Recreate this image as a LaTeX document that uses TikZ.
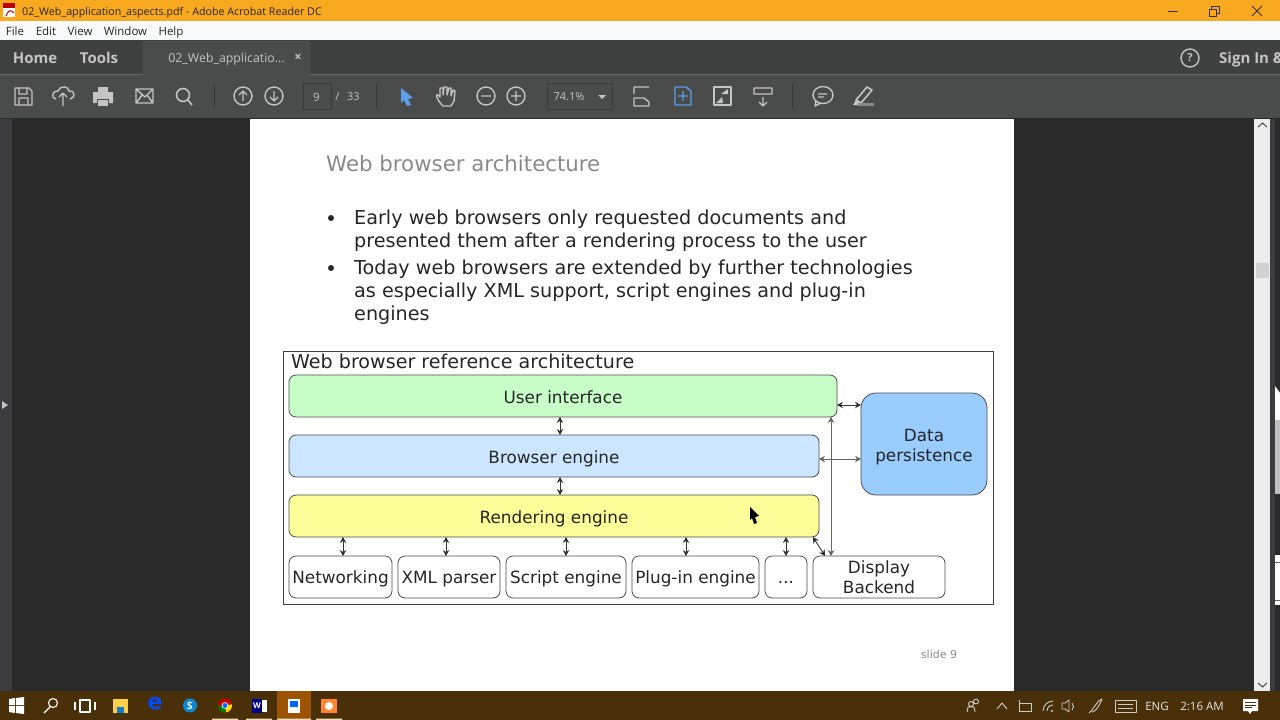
\documentclass[tikz,border=0pt]{standalone}
\usepackage{fontspec}
\setmainfont{DejaVu Sans}
\newfontfamily\uifont{Open Sans}
\usetikzlibrary{arrows.meta}
\definecolor{orangebar}{HTML}{F9A91F}
\definecolor{menubar}{HTML}{F8F9FA}
\definecolor{tabbar}{HTML}{3F4040}
\definecolor{toolbar}{HTML}{4A4B4B}
\definecolor{viewer}{HTML}{2A2A2A}
\definecolor{strip}{HTML}{3C3C3E}
\definecolor{taskbar}{HTML}{4A3008}
\definecolor{icongrey}{HTML}{C4C4C4}
\definecolor{iconblue}{HTML}{5A9FE8}
\definecolor{titlegrey}{HTML}{8A8A8A}
\definecolor{uig}{HTML}{C8FFC8}
\definecolor{beb}{HTML}{CCE6FF}
\definecolor{rey}{HTML}{FFFF99}
\definecolor{dpb}{HTML}{99CCFF}
\definecolor{peach}{HTML}{F5DDBB}
\tikzset{
  x=1pt,y=-1pt,
  boxnode/.style={draw=black!70,line width=.8pt,rounded corners=7pt,inner sep=0pt,outer sep=0pt,align=center,text=black!85,font=\fontsize{16.85}{20}\selectfont},
  oneline/.style={text height=16pt,text depth=2pt},
  lowline/.style={text height=14pt,text depth=2pt},
  arr/.style={{Stealth[length=6pt,width=6.5pt,fill=black]}-{Stealth[length=6pt,width=6.5pt,fill=black]},line width=.9pt,draw=black!80},
  longarr/.style={arr,draw=black!60},
  body/.style={anchor=base west,inner sep=0pt,text=black!85,font=\fontsize{19.2}{22}\selectfont},
  ui/.style={inner sep=0pt,font=\uifont\fontsize{11.5}{14}\selectfont,text=black!85},
  menuitem/.style={ui,anchor=base},
  tabtext/.style={inner sep=0pt,anchor=base,font=\uifont\bfseries\fontsize{15}{18}\selectfont,text=icongrey},
  tool/.style={draw=icongrey,line width=1.4pt,line join=round},
  bar/.style={draw=white,line width=1.1pt,line join=round},
  tray/.style={draw=white!80!black,line width=.9pt,line join=round}
}
\begin{document}
\begin{tikzpicture}
\useasboundingbox (0,0) rectangle (1280,720);
% window bands
\fill[viewer] (0,0) rectangle (1280,720);
\fill[strip] (0,119) rectangle (12,691);
\fill[icongrey] (2,401) -- (8,405) -- (2,409) -- cycle;
\fill[orangebar] (0,0) rectangle (1280,21);
\fill[menubar] (0,21) rectangle (1280,40);
\fill[tabbar] (0,40) rectangle (1280,74);
\fill[toolbar] (143,41) rectangle (310,75);
\fill[toolbar] (0,75) rectangle (1280,118);
\draw[black!60,line width=.7pt] (0,74.5) -- (143,74.5) (310,74.5) -- (1280,74.5);
% title bar
\fill[white] (3,3) rectangle (15,17);
\fill[red!75!black] (3,3) rectangle (15,8);
\draw[red!75!black,line width=1pt] (6,16) .. controls (9,9) and (11,10) .. (14,13);
\node[ui,anchor=base west,font=\uifont\fontsize{10.7}{14}\selectfont] (title) at (22,15) {02\_Web\_application\_aspects.pdf - Adobe Acrobat Reader DC};
\draw[black!80,line width=.8pt] (1168,11) -- (1178,11);
\draw[black!80,line width=.8pt] (1209,9) rectangle (1216,16) (1211,9) -- (1211,6) -- (1219,6) -- (1219,13) -- (1216,13);
\draw[black!80,line width=.8pt] (1252,6) -- (1262,16) (1262,6) -- (1252,16);
% menu
\foreach \n/\xx/\t in {mfile/15/File,medit/46/Edit,mview/80/View,mwin/125.5/Window,mhelp/171/Help}
  \node[menuitem] (\n) at (\xx,35) {\t};
% tabs
\node[tabtext] (thome) at (35,63) {Home};
\node[tabtext] (ttools) at (99,63) {Tools};
\node[ui,anchor=base,font=\uifont\fontsize{12.3}{16}\selectfont,text=icongrey] (ttab) at (226.5,62.5) {02\_Web\_applicatio...};
\node[ui,font=\uifont\bfseries\fontsize{13}{16}\selectfont,text=icongrey] (tx) at (298,58) {×};
\node[tabtext,anchor=base west] (tsign) at (1219,63) {Sign In \&};
\draw[tool] (1190,58) circle (9);
\node[ui,font=\uifont\bfseries\fontsize{11}{14}\selectfont,text=icongrey] (thelp) at (1190,58) {?};
% toolbar icons
\draw[tool] (15,88) -- (29,88) -- (32,91) -- (32,105) -- (15,105) -- cycle (19,88) rectangle (27,94) (19,105) rectangle (28,98);
\draw[tool] (56,99) .. controls (50,98) and (53,90) .. (58,91) .. controls (60,85) and (69,86) .. (69,91) .. controls (75,90) and (76,98) .. (70,99) (63,106) -- (63,93) (59,97) -- (63,93) -- (67,97);
\fill[icongrey] (98,87) rectangle (108,92) (93,92) rectangle (113,103);
\fill[toolbar] (97,99) rectangle (109,104);
\fill[icongrey] (98,100) rectangle (108,106);
\draw[tool] (136,89) rectangle (153,103) (136,89) -- (145,97) -- (153,89) (136,103) -- (142,95) (153,103) -- (147,95);
\draw[tool,line width=1.6pt] (183,95) circle (6.5) (188,100) -- (192,105);
\draw[black!30!toolbar,line width=.7pt] (214,84) -- (214,108) (376,84) -- (376,108) (792,84) -- (792,108);
\foreach \cx/\d in {243/-1,274/1}{
  \draw[tool] (\cx,96) circle (9);
  \draw[tool] (\cx,{96-5*\d}) -- (\cx,{96+5*\d}) ({\cx-4},96+\d) -- (\cx,{96+5*\d}) -- ({\cx+4},96+\d);
}
\draw[black!25!toolbar,line width=.8pt] (303,83.5) rectangle (331,109);
\node[ui,text=icongrey] (tpage) at (316.5,97) {9};
\node[ui,text=icongrey,font=\uifont\fontsize{11}{14}\selectfont] (tpages) at (347.5,97) {/ \hspace{2pt} 33};
\fill[iconblue] (401,88) -- (413,98) -- (408,99) -- (411,105) -- (407,106) -- (404,100) -- (401,103) -- cycle;
\draw[tool] (441,104) .. controls (435,96) and (436,94) .. (438,95) -- (440,97) -- (440,88) -- (443,88) -- (443,95) -- (444,87) -- (447,87) -- (447,95) -- (449,88) -- (451,88) -- (451,96) -- (453,90) -- (455,91) -- (454,101) -- (451,106) -- (443,106) -- cycle;
\draw[tool] (486,96) circle (9) (481,96) -- (491,96);
\draw[tool] (516,96) circle (9) (511,96) -- (521,96) (516,91) -- (516,101);
\draw[black!25!toolbar,line width=.8pt] (547,83.5) rectangle (612,109);
\node[ui,text=icongrey,font=\uifont\fontsize{11}{14}\selectfont] (tzoom) at (569,97) {74.1\%};
\fill[icongrey] (598,95) -- (606,95) -- (602,99) -- cycle;
\draw[tool] (634,94) -- (634,87) -- (649,87) (640,98) -- (634,98) -- (634,106) -- (649,106) -- (649,102) -- (644,98) -- cycle;
\draw[iconblue,line width=1.4pt,line join=round] (675,87) -- (686,87) -- (691,91) -- (691,105) -- (675,105) -- cycle (683,91) -- (683,101) (678,96) -- (688,96);
\draw[tool] (714,87) rectangle (731,105);
\fill[icongrey] (721,94) -- (728,89) -- (728,94) -- cycle (716,103) -- (722,97) -- (723,103) -- cycle;
\draw[tool] (754,88) rectangle (772,94) (763,97) -- (763,106) (759,102) -- (763,106) -- (767,102);
\draw[tool] (823,95) ellipse (10 and 8.5) (816,101) -- (815,106) -- (821,103) (818,94) -- (827,94) (818,97) -- (824,97);
\draw[tool,line width=1.6pt] (856,100) -- (867,87) -- (872,90) -- (861,103) -- cycle;
\fill[icongrey] (853,105) -- (856,100) -- (860,103) -- (858,105) -- cycle;
\fill[icongrey!50!toolbar] (858,102.5) rectangle (874,105.5);
% scrollbar
\fill[black!7] (1254,119) rectangle (1270,691);
\fill[black!18] (1256,263) rectangle (1269,278);
\draw[black!70,line width=1pt] (1258,127) -- (1262.5,123) -- (1267,127) (1258,683) -- (1262.5,687) -- (1267,683);
\fill[strip] (1270,119) rectangle (1275,691);
\fill[white] (1275,386) -- (1280,393) -- (1280,420) -- (1275,420) -- cycle;
\fill[black!25] (1275,420) rectangle (1280,494);
\fill[white] (1275,555) rectangle (1280,605);
\draw[black!60,line width=.8pt] (1275,562) -- (1280,562) (1275,600) -- (1280,600);
% page
\fill[white] (250,119) rectangle (1014,691);
\node[anchor=base west,inner sep=0pt,text=titlegrey,font=\fontsize{21.3}{25}\selectfont] (ptitle) at (326,171) {Web browser architecture};
\node[body] (l1) at (354,224) {Early web browsers only requested documents and};
\node[body] (l2) at (354,247) {presented them after a rendering process to the user};
\node[body] (l3) at (354,274) {Today web browsers are extended by further technologies};
\node[body] (l4) at (354,297) {as especially XML support, script engines and plug-in};
\node[body] (l5) at (354,320) {engines};
\fill[black!85] (331,218) circle (3) (331,268) circle (3);
\node[inner sep=0pt,text=black!45,font=\fontsize{11}{13}\selectfont] (slide) at (939,654) {slide 9};
% diagram
\draw[black!75,line width=.9pt] (283.5,351.5) rectangle (993.5,604);
\node[anchor=base west,inner sep=0pt,text=black!85,font=\fontsize{19.1}{22}\selectfont] (dtitle) at (291,368) {Web browser reference architecture};
\node[boxnode,oneline,fill=uig,minimum width=548pt,minimum height=42pt] (ui) at (563,396) {User interface};
\node[boxnode,oneline,fill=beb,minimum width=530pt,minimum height=42pt] (be) at (554,456) {Browser engine};
\node[boxnode,oneline,fill=rey,minimum width=530pt,minimum height=42pt] (re) at (554,516) {Rendering engine};
\node[boxnode,fill=dpb,minimum width=126pt,minimum height=102pt,rounded corners=15pt] (dp) at (924,444) {\rule{0pt}{18pt}Data\\persistence};
\node[boxnode,lowline,minimum width=103pt,minimum height=42pt] (net) at (340.5,577) {Networking};
\node[boxnode,lowline,minimum width=102pt,minimum height=42pt] (xml) at (449,577) {XML parser};
\node[boxnode,lowline,minimum width=120pt,minimum height=42pt] (scr) at (566,577) {Script engine};
\node[boxnode,lowline,minimum width=127pt,minimum height=42pt] (plug) at (695.5,577) {Plug-in engine};
\node[boxnode,lowline,minimum width=42pt,minimum height=42pt] (dots) at (786,577) {...};
\node[boxnode,minimum width=132pt,minimum height=42pt] (disp) at (879,577) {\rule{0pt}{13.5pt}Display\\Backend};
\coordinate (c1) at (560,0);
\coordinate (c2) at (343,0);
\coordinate (c3) at (446,0);
\coordinate (c4) at (566,0);
\coordinate (c5) at (686,0);
\coordinate (c6) at (786,0);
\coordinate (c7) at (831,0);
\coordinate (r1) at (0,405);
\coordinate (r2) at (0,459);
\coordinate (d1) at (813,0);
\coordinate (d2) at (825,0);
\draw[arr] (ui.south -| c1) -- (be.north -| c1);
\draw[arr] (be.south -| c1) -- (re.north -| c1);
\draw[arr] (re.south -| c2) -- (net.north -| c2);
\draw[arr] (re.south -| c3) -- (xml.north -| c3);
\draw[arr] (re.south -| c4) -- (scr.north -| c4);
\draw[arr] (re.south -| c5) -- (plug.north -| c5);
\draw[arr] (re.south -| c6) -- (dots.north -| c6);
\draw[arr] (re.south -| d1) -- (disp.north -| d2);
\draw[longarr] (ui.south -| c7) -- (disp.north -| c7);
\draw[arr] (ui.east |- r1) -- (dp.west |- r1);
\draw[longarr] (be.east |- r2) -- (dp.west |- r2);
% mouse pointer
\fill[black] (750,507) -- (759,516) -- (755,517) -- (757,523) -- (754,524) -- (752,518) -- (750,520) -- cycle;
% taskbar
\fill[taskbar] (0,691) rectangle (1280,720);
\fill[orange!45!taskbar] (277,691) rectangle (311,720);
\fill[peach] (212,718.5) rectangle (238,720) (246,718.5) rectangle (272,720) (277,718.5) rectangle (311,720) (316,718.5) rectangle (342,720);
\fill[white] (9,699) -- (15,698) -- (15,705) -- (9,705) -- cycle (16,698) -- (24,697) -- (24,705) -- (16,705) -- cycle (9,706) -- (15,706) -- (15,713) -- (9,712) -- cycle (16,706) -- (24,706) -- (24,714) -- (16,713) -- cycle;
\draw[bar] (53,703) circle (4.5) (50,707) -- (44,713);
\draw[bar] (80,700) rectangle (90,712) (75,702) -- (75,710) (95,702) -- (95,710);
\fill[yellow!50!orange!70!white] (113,699) rectangle (128,713);
\fill[cyan!60!blue] (117,707) rectangle (124,713);
\node[inner sep=0pt,text=blue!70!cyan,font=\fontsize{22}{24}\bfseries\selectfont] (tedge) at (155,703.5) {e};
\fill[cyan!70!blue] (190,705.5) circle (7);
\node[ui,text=white,font=\uifont\bfseries\fontsize{10}{12}\selectfont] (tskype) at (190,705.5) {S};
\fill[red!80!black] (225,705.5) circle (7);
\fill[green!50!black] (225,705.5) -- +(180:7) arc (180:80:7) -- cycle;
\fill[yellow!80!orange] (225,705.5) -- +(80:7) arc (80:-10:7) -- cycle;
\fill[white] (225,705.5) circle (3.3);
\fill[blue!60!cyan] (225,705.5) circle (2.5);
\fill[white] (260,700) rectangle (267,712);
\fill[blue!50!black] (252,699) rectangle (262,713);
\node[ui,text=white,font=\uifont\bfseries\fontsize{8}{10}\selectfont] (tword) at (257,706) {W};
\fill[white] (288,699) rectangle (300,713);
\fill[blue!60!cyan] (290,701) rectangle (298,707);
\fill[orange!80!red!80!white] (321,699) rectangle (337,713);
\fill[white] (329,706) circle (4);
% tray
\draw[tray] (971,704) circle (2.5) (976,701.5) circle (2.5) (967,712) -- (968,707) -- (974,707) -- (975,712);
\draw[tray] (997,709) -- (1002,703) -- (1007,709);
\draw[tray] (1019,703) rectangle (1031,711) (1019,703) -- (1019,700);
\draw[tray] (1043,711) arc (180:270:10) (1047,711) arc (180:270:6);
\fill[white!80!black] (1052,711) circle (1.2);
\draw[tray] (1062,703) -- (1065,703) -- (1069,700) -- (1069,712) -- (1065,709) -- (1062,709) -- cycle (1072,703) .. controls (1074,705) and (1074,708) .. (1072,710);
\draw[tray] (1089,713) .. controls (1095,708) and (1097,700) .. (1102,699) .. controls (1100,704) and (1096,712) .. (1092,712);
\draw[tray] (1115,700) rectangle (1136,712) (1118,704) -- (1133,704) (1118,708) -- (1133,708);
\node[ui,anchor=base,text=white!90!black] (teng) at (1157,710) {ENG};
\node[ui,anchor=base,text=white!90!black] (ttime) at (1202,710) {2:16 AM};
\fill[white] (1243,699) rectangle (1258,711) (1248,711) -- (1250,714) -- (1252,711) -- cycle;
\draw[taskbar,line width=.8pt] (1245,702.5) -- (1256,702.5) (1245,705) -- (1256,705) (1245,707.5) -- (1252,707.5);
\end{tikzpicture}
\end{document}
